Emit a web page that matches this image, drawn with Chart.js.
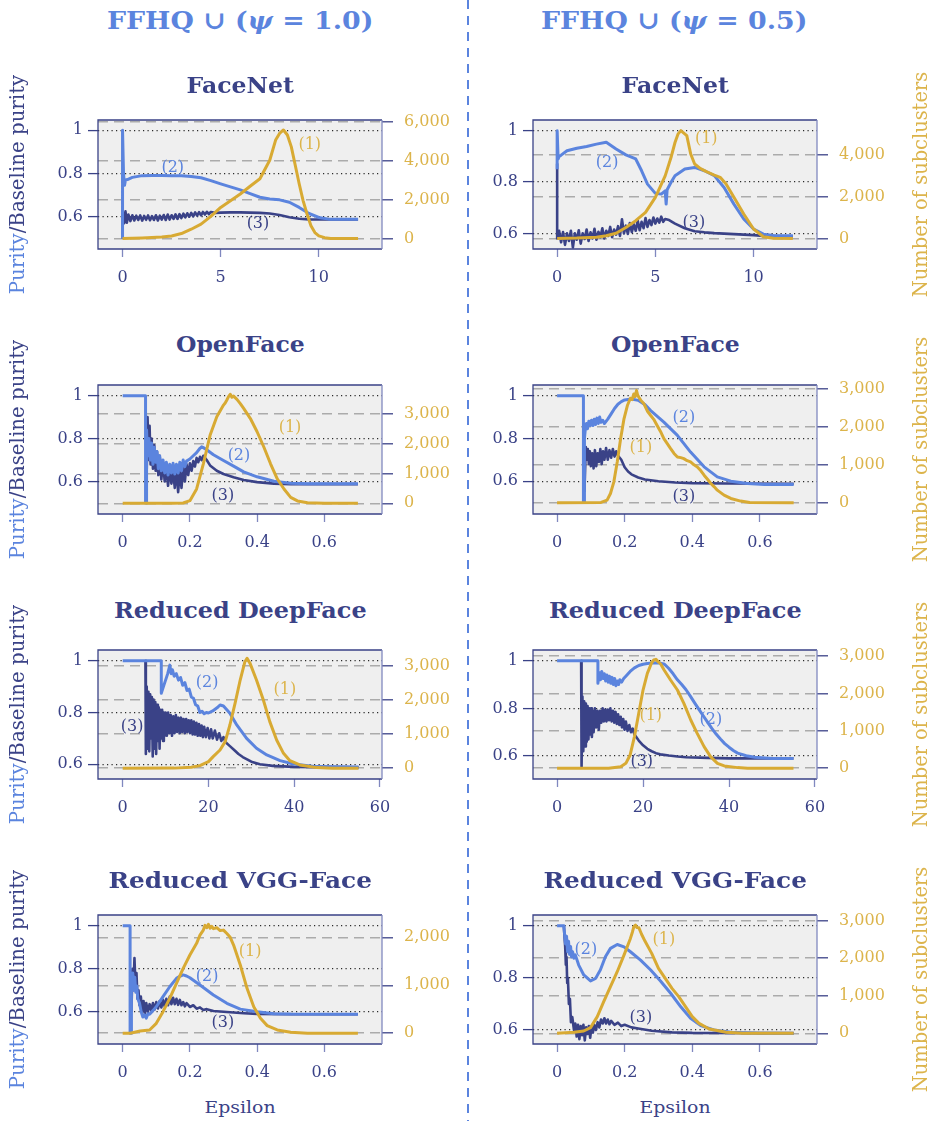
<!DOCTYPE html>
<html lang="en">
<head>
  <meta charset="UTF-8" />
  <title>Purity and subclusters vs epsilon</title>
  <script src="https://cdn.jsdelivr.net/npm/chart.js"></script>
  <style>
    body {
      margin: 0;
      width: 928px;
      height: 1121px;
      background: #ffffff;
      position: relative;
      overflow: hidden;
      font-family: 'DejaVu Serif', serif;
    }
    .txt {
      position: absolute;
      white-space: nowrap;
      line-height: 1;
      transform-origin: center center;
    }
    .colhead { font-size: 25px; font-weight: bold; color: #5b84de; }
    .title { font-size: 22px; font-weight: bold; color: #3a4287; }
    .axlab { font-size: 17px; color: #3a4287; }
    .sublab { font-size: 17px; color: #dcb44b; }
    .divider {
      position: absolute;
      left: 467px;
      top: 0;
      width: 1.5px;
      height: 1121px;
      background: repeating-linear-gradient(to bottom, #5b84de 0 9px, transparent 9px 16px);
    }
  </style>
</head>
<body>
<div class="divider"></div>

<script>
  // tick values
  const purityTicks = [0.6, 0.8, 1];
  const xTicksFaceNet = [0, 5, 10];
  const xTicksSmall = [0, 0.2, 0.4, 0.6];
  const xTicksDeepFace = [0, 20, 40, 60];
  const subTicksFnA = [0, 2000, 4000, 6000];
  const subTicksFnB = [0, 2000, 4000];
  const subTicks3k = [0, 1000, 2000, 3000];
  const subTicksVgA = [0, 1000, 2000];

  // FaceNet, psi = 1.0
  const fnAPurityEps = [0, 0, 0.05, 0.1, 0.15, 0.25, 0.5, 1, 1.5, 2, 2.5, 3, 3.5, 4, 4.5, 5, 5.5, 6, 6.5, 7, 7.5, 8, 8.5, 9, 9.5, 10, 10.5, 11, 12];
  const fnAPurity = [0.5, 1.0, 0.8, 0.745, 0.77, 0.772, 0.782, 0.79, 0.791, 0.791, 0.79, 0.789, 0.786, 0.78, 0.767, 0.752, 0.738, 0.724, 0.707, 0.69, 0.682, 0.678, 0.667, 0.643, 0.615, 0.597, 0.589, 0.588, 0.588];
  const fnABaselineEps = [0, 0, 0.08, 0.15, 0.22, 0.3, 0.4, 0.5, 0.6, 0.7, 0.8, 0.9, 1.0,
    1.1, 1.2, 1.3, 1.4, 1.5, 1.6, 1.7, 1.8, 1.9, 2.0, 2.1, 2.2, 2.3, 2.4, 2.5, 2.6, 2.7, 2.8, 2.9, 3.0,
    3.1, 3.2, 3.3, 3.4, 3.5, 3.6, 3.7, 3.8, 3.9, 4.0, 4.1, 4.2, 4.3, 4.4, 4.5,
    4.7, 5, 5.5, 6, 6.5, 7, 7.5, 8, 8.5, 9, 9.5, 10, 12];
  const fnABaseline = [0.5, 0.63, 0.57, 0.625, 0.572, 0.61, 0.58, 0.607, 0.583, 0.605, 0.585, 0.606, 0.582,
    0.604, 0.586, 0.606, 0.584, 0.603, 0.585, 0.607, 0.583, 0.605, 0.587, 0.608, 0.585, 0.61, 0.587, 0.607, 0.59, 0.611, 0.59, 0.612, 0.594,
    0.614, 0.597, 0.616, 0.6, 0.618, 0.602, 0.62, 0.605, 0.621, 0.607, 0.622, 0.61, 0.623, 0.612, 0.622,
    0.618, 0.619, 0.62, 0.62, 0.619, 0.618, 0.615, 0.608, 0.598, 0.591, 0.588, 0.587, 0.587];
  const fnASubEps = [0, 1, 2, 2.5, 3, 3.5, 4, 4.5, 5, 5.5, 6, 6.5, 7, 7.5, 7.8, 8, 8.2, 8.4, 8.6, 8.8, 9, 9.2, 9.4, 9.6, 9.8, 10, 10.3, 10.6, 11, 12];
  const fnASub = [0, 35, 87, 139, 260, 485, 745, 1150, 1610, 1950, 2300, 2700, 3085, 4040, 5080, 5420, 5600, 5340, 4730, 3780, 2830, 1960, 1270, 660, 310, 140, 50, 10, 0, 0];

  // FaceNet, psi = 0.5
  const fnBPurityEps = [0, 0, 0.05, 0.1, 0.2, 0.5, 1, 1.5, 2, 2.5, 3, 3.5, 4, 4.3, 4.6, 5, 5.3, 5.5, 5.55, 5.6, 5.8, 6, 6.5, 7, 7.5, 8, 8.5, 9, 9.5, 10, 10.5, 11, 12];
  const fnBPurity = [0.85, 1.0, 0.89, 0.9, 0.905, 0.922, 0.932, 0.939, 0.948, 0.955, 0.929, 0.906, 0.89, 0.844, 0.792, 0.756, 0.753, 0.766, 0.714, 0.77, 0.799, 0.825, 0.851, 0.857, 0.844, 0.825, 0.779, 0.714, 0.656, 0.617, 0.597, 0.592, 0.591];
  const fnBBaselineEps = [0, 0,
    0.1, 0.2, 0.3, 0.4, 0.5, 0.6, 0.7, 0.8, 0.9, 1.0,
    1.1, 1.2, 1.3, 1.4, 1.5, 1.6, 1.7, 1.8, 1.9, 2.0,
    2.1, 2.2, 2.3, 2.4, 2.5, 2.6, 2.7, 2.8, 2.9, 3.0,
    3.1, 3.2, 3.3, 3.4, 3.5, 3.6, 3.7, 3.8, 3.9, 4.0,
    4.1, 4.2, 4.3, 4.4, 4.5, 4.6, 4.7, 4.8, 4.9, 5.0,
    5.1, 5.2, 5.3, 5.4, 5.5,
    5.7, 6, 6.5, 7, 7.5, 8, 9, 10, 10.5, 12];
  const fnBBaseline = [0.87, 0.58,
    0.61, 0.565, 0.605, 0.555, 0.6, 0.57, 0.61, 0.545, 0.6, 0.575,
    0.612, 0.56, 0.6, 0.578, 0.615, 0.57, 0.604, 0.58, 0.618, 0.575,
    0.606, 0.585, 0.62, 0.58, 0.61, 0.59, 0.625, 0.585, 0.615, 0.595,
    0.628, 0.59, 0.655, 0.6, 0.63, 0.598, 0.64, 0.605, 0.635, 0.61,
    0.65, 0.612, 0.645, 0.62, 0.66, 0.625, 0.652, 0.632, 0.662, 0.638,
    0.658, 0.642, 0.665, 0.645, 0.656,
    0.652, 0.638, 0.62, 0.608, 0.604, 0.601, 0.597, 0.593, 0.59, 0.588];
  const fnBSubEps = [0, 1, 2, 2.5, 3, 3.5, 4, 4.5, 5, 5.5, 5.8, 6, 6.15, 6.3, 6.45, 6.6, 6.8, 7, 7.3, 7.6, 8, 8.3, 8.6, 9, 9.5, 10, 10.5, 11, 12];
  const fnBSub = [0, 15, 60, 130, 250, 520, 850, 1250, 1970, 3000, 3890, 4600, 5000, 5170, 5050, 4930, 4050, 3570, 3350, 3200, 3040, 2930, 2610, 1970, 1170, 450, 80, 5, 0];

  // OpenFace, psi = 1.0
  const ofAPurityEps = [0, 0.068, 0.068, 0.071, 0.071, 0.074, 0.078, 0.082, 0.086, 0.09, 0.094, 0.098, 0.102, 0.106, 0.11, 0.115, 0.12, 0.125, 0.13, 0.135, 0.14, 0.145, 0.15, 0.155, 0.16, 0.165, 0.17, 0.175, 0.18, 0.185, 0.19, 0.2, 0.21, 0.22, 0.23, 0.235, 0.24, 0.25, 0.27, 0.3, 0.33, 0.36, 0.4, 0.45, 0.5, 0.55, 0.7];
  const ofAPurity = [1, 1, 0.5, 0.5, 0.84, 0.72, 0.8, 0.7, 0.78, 0.68, 0.76, 0.69, 0.74, 0.66, 0.72, 0.65, 0.7, 0.64, 0.69, 0.63, 0.68, 0.64, 0.685, 0.635, 0.68, 0.64, 0.69, 0.65, 0.7, 0.67, 0.695, 0.705, 0.72, 0.735, 0.755, 0.762, 0.758, 0.748, 0.725, 0.698, 0.672, 0.645, 0.622, 0.601, 0.592, 0.589, 0.589];
  const ofABaselineEps = [0.071, 0.074, 0.077, 0.08, 0.083, 0.086, 0.09, 0.094, 0.098, 0.102, 0.106, 0.11, 0.115, 0.12, 0.125, 0.13, 0.135, 0.14, 0.145, 0.15, 0.155, 0.16, 0.165, 0.17, 0.175, 0.18, 0.185, 0.19, 0.195, 0.2, 0.205, 0.21, 0.215, 0.22, 0.225, 0.23, 0.235, 0.24, 0.25, 0.26, 0.28, 0.3, 0.33, 0.36, 0.4, 0.45, 0.5, 0.7];
  const ofABaseline = [0.6, 0.9, 0.7, 0.86, 0.68, 0.8, 0.66, 0.77, 0.65, 0.74, 0.63, 0.72, 0.61, 0.69, 0.6, 0.67, 0.58, 0.66, 0.59, 0.65, 0.57, 0.66, 0.55, 0.65, 0.57, 0.67, 0.6, 0.68, 0.63, 0.685, 0.65, 0.695, 0.67, 0.71, 0.69, 0.715, 0.7, 0.72, 0.7, 0.675, 0.65, 0.635, 0.62, 0.607, 0.597, 0.59, 0.588, 0.588];
  const ofASubEps = [0, 0.15, 0.18, 0.2, 0.22, 0.24, 0.26, 0.28, 0.3, 0.305, 0.31, 0.315, 0.32, 0.325, 0.33, 0.34, 0.35, 0.36, 0.38, 0.4, 0.42, 0.44, 0.46, 0.48, 0.5, 0.52, 0.55, 0.6, 0.7];
  const ofASub = [0, 0, 10, 90, 480, 1320, 2270, 2890, 3280, 3350, 3450, 3560, 3640, 3540, 3580, 3470, 3330, 3170, 2830, 2390, 1880, 1320, 820, 480, 200, 80, 20, 0, 0];

  // OpenFace, psi = 0.5
  const ofBPurityEps = [0, 0.078, 0.078, 0.081, 0.081, 0.084, 0.087, 0.09, 0.094, 0.098, 0.102, 0.106, 0.11, 0.114, 0.118, 0.122, 0.126, 0.13, 0.135, 0.14, 0.15, 0.16, 0.17, 0.18, 0.19, 0.2, 0.22, 0.24, 0.26, 0.277, 0.316, 0.356, 0.395, 0.435, 0.474, 0.514, 0.563, 0.613, 0.7];
  const ofBPurity = [1, 1, 0.5, 0.5, 0.8, 0.85, 0.87, 0.845, 0.88, 0.86, 0.885, 0.86, 0.89, 0.865, 0.895, 0.87, 0.9, 0.875, 0.885, 0.87, 0.89, 0.915, 0.94, 0.96, 0.972, 0.98, 0.984, 0.978, 0.958, 0.93, 0.876, 0.814, 0.736, 0.667, 0.62, 0.6, 0.589, 0.585, 0.585];
  const ofBBaselineEps = [0.081, 0.085, 0.088, 0.091, 0.094, 0.097, 0.1, 0.104, 0.108, 0.112, 0.116, 0.12, 0.124, 0.128, 0.132, 0.136, 0.14, 0.145, 0.15, 0.155, 0.16, 0.165, 0.17, 0.175, 0.18, 0.19, 0.2, 0.21, 0.22, 0.24, 0.26, 0.3, 0.35, 0.4, 0.5, 0.7];
  const ofBBaseline = [0.55, 0.76, 0.7, 0.75, 0.68, 0.74, 0.67, 0.73, 0.66, 0.745, 0.67, 0.73, 0.69, 0.75, 0.68, 0.74, 0.7, 0.755, 0.7, 0.745, 0.71, 0.75, 0.715, 0.74, 0.72, 0.7, 0.665, 0.645, 0.632, 0.617, 0.608, 0.6, 0.594, 0.591, 0.589, 0.588];
  const ofBSubEps = [0, 0.13, 0.148, 0.158, 0.168, 0.178, 0.188, 0.198, 0.208, 0.217, 0.222, 0.227, 0.231, 0.235, 0.238, 0.242, 0.248, 0.257, 0.267, 0.277, 0.286, 0.296, 0.306, 0.316, 0.326, 0.336, 0.346, 0.356, 0.366, 0.375, 0.385, 0.395, 0.405, 0.415, 0.425, 0.435, 0.445, 0.455, 0.465, 0.474, 0.494, 0.514, 0.543, 0.57, 0.7];
  const ofBSub = [0, 10, 70, 245, 551, 1076, 1689, 2214, 2564, 2756, 2720, 2870, 2800, 2958, 2850, 2783, 2700, 2608, 2420, 2301, 2200, 2039, 1880, 1689, 1560, 1426, 1300, 1208, 1190, 1164, 1110, 1076, 1000, 945, 850, 726, 620, 508, 420, 333, 201, 114, 44, 5, 0];

  // Reduced DeepFace, psi = 1.0
  const dfAPurityEps = [0, 9, 9, 9.5, 10, 10.5, 11, 11.3, 11.6, 12, 12.5, 13, 13.5, 14, 14.5, 15, 15.5, 16, 16.5, 17, 17.5, 18, 18.5, 19, 19.5, 20, 21, 22, 22.7, 23.5, 25, 26.6, 28.9, 31.2, 33.6, 36.7, 39.8, 45.2, 55];
  const dfAPurity = [1, 1, 0.874, 0.9, 0.925, 0.95, 0.983, 0.95, 0.965, 0.94, 0.95, 0.925, 0.935, 0.905, 0.915, 0.885, 0.89, 0.86, 0.855, 0.83, 0.825, 0.8, 0.805, 0.795, 0.8, 0.798, 0.806, 0.818, 0.829, 0.825, 0.797, 0.752, 0.7, 0.662, 0.636, 0.614, 0.601, 0.591, 0.59];
  const dfABaselineEps = [5.3, 5.4, 5.6, 5.8, 6.0, 6.2, 6.4, 6.6, 6.8, 7.0, 7.2, 7.4, 7.6, 7.8, 8.0, 8.2, 8.4, 8.6, 8.8, 9.0, 9.2, 9.4, 9.6, 9.8, 10.0,
    10.3, 10.6, 10.9, 11.2, 11.5, 11.8, 12.1, 12.4, 12.7, 13, 13.3, 13.6, 13.9, 14.2, 14.5, 14.8, 15.1, 15.4, 15.7, 16,
    16.3, 16.6, 16.9, 17.2, 17.5, 17.8, 18.1, 18.4, 18.7, 19, 19.4, 19.8, 20.2, 20.6, 21, 21.5, 22, 22.5, 23, 23.5,
    24, 25, 26, 27, 28, 30, 32, 35, 40, 55];
  const dfABaseline = [1, 0.64, 0.9, 0.66, 0.88, 0.65, 0.87, 0.7, 0.86, 0.63, 0.85, 0.66, 0.84, 0.64, 0.83, 0.69, 0.82, 0.66, 0.81, 0.7, 0.81, 0.69, 0.8, 0.71, 0.8,
    0.71, 0.8, 0.72, 0.79, 0.71, 0.785, 0.72, 0.79, 0.725, 0.78, 0.72, 0.78, 0.725, 0.775, 0.72, 0.775, 0.725, 0.77, 0.72, 0.77,
    0.715, 0.765, 0.715, 0.76, 0.71, 0.755, 0.71, 0.75, 0.705, 0.745, 0.705, 0.74, 0.7, 0.735, 0.7, 0.73, 0.695, 0.72, 0.69, 0.705,
    0.685, 0.67, 0.655, 0.64, 0.628, 0.61, 0.6, 0.594, 0.59, 0.588];
  const dfASubEps = [0, 12, 16, 18, 20, 21.1, 22.7, 23.9, 25, 26.2, 27.4, 28.5, 29, 29.7, 31.2, 32.8, 34.3, 35.9, 37.5, 39, 41.3, 45.2, 49, 55];
  const dfASub = [0, 5, 30, 78, 195, 341, 536, 779, 1266, 1899, 2581, 3117, 3214, 3068, 2581, 1997, 1364, 828, 438, 224, 97, 20, 0, 0];

  // Reduced DeepFace, psi = 0.5
  const dfBPurityEps = [0, 9.5, 9.5, 9.8, 10.1, 10.4, 10.7, 11, 11.3, 11.6, 11.9, 12.2, 12.5, 12.8, 13.1, 13.4, 13.7, 14, 14.3, 14.6, 15, 15.5, 16, 17, 18, 19, 20, 21, 22, 23, 24, 25, 26, 27, 28, 29, 30, 31, 32, 33, 34, 35, 36, 37, 38, 39, 40, 41, 42, 44, 46, 50, 55];
  const dfBPurity = [1, 1, 0.905, 0.95, 0.92, 0.955, 0.925, 0.945, 0.915, 0.94, 0.91, 0.935, 0.905, 0.93, 0.9, 0.925, 0.895, 0.915, 0.9, 0.92, 0.91, 0.925, 0.935, 0.955, 0.97, 0.98, 0.985, 0.988, 0.99, 0.99, 0.99, 0.985, 0.967, 0.945, 0.92, 0.9, 0.878, 0.851, 0.823, 0.796, 0.769, 0.742, 0.716, 0.692, 0.671, 0.652, 0.637, 0.623, 0.612, 0.601, 0.595, 0.59, 0.59];
  const dfBBaselineEps = [5.6, 5.7, 5.9, 6.1, 6.3, 6.5, 6.7, 6.9, 7.1, 7.3, 7.5, 7.7, 7.9, 8.1, 8.3, 8.5, 8.8, 9.1, 9.4, 9.7,
    10, 10.3, 10.6, 10.9, 11.2, 11.5, 11.8, 12.1, 12.4, 12.7, 13, 13.3, 13.6, 13.9, 14.2, 14.5, 14.8, 15.1, 15.4, 15.7,
    16, 16.4, 16.8, 17.2, 17.6, 18, 19, 20, 21, 22, 23, 24, 26, 28, 30, 35, 40, 55];
  const dfBBaseline = [1, 0.555, 0.85, 0.62, 0.83, 0.64, 0.82, 0.66, 0.81, 0.67, 0.8, 0.69, 0.8, 0.68, 0.79, 0.7, 0.8, 0.72, 0.79, 0.71,
    0.79, 0.74, 0.8, 0.745, 0.795, 0.745, 0.795, 0.75, 0.8, 0.745, 0.79, 0.74, 0.785, 0.735, 0.775, 0.73, 0.765, 0.72, 0.755, 0.71,
    0.745, 0.705, 0.73, 0.7, 0.715, 0.69, 0.665, 0.645, 0.63, 0.62, 0.612, 0.607, 0.602, 0.598, 0.595, 0.592, 0.59, 0.59];
  const dfBSubEps = [0, 12, 14.8, 16, 17, 18, 19, 20, 21, 22, 22.5, 23, 23.5, 24.1, 24.9, 26.4, 28, 29.5, 31.1, 32.6, 34.2, 35.7, 37.3, 38.9, 42, 44.3, 55];
  const dfBSub = [0, 0, 44, 133, 356, 846, 1468, 2091, 2536, 2821, 2892, 2910, 2850, 2786, 2626, 2358, 2091, 1735, 1290, 934, 578, 311, 133, 62, 18, 0, 0];

  // Reduced VGG-Face, psi = 1.0
  const vgAPurityEps = [0, 0.022, 0.022, 0.026, 0.026, 0.03, 0.033, 0.036, 0.039, 0.042, 0.045, 0.05, 0.055, 0.06, 0.065, 0.07, 0.075, 0.08, 0.09, 0.1, 0.12, 0.14, 0.16, 0.17, 0.18, 0.19, 0.2, 0.23, 0.27, 0.31, 0.35, 0.4, 0.45, 0.5, 0.7];
  const vgAPurity = [1, 1, 0.5, 0.5, 0.72, 0.78, 0.7, 0.76, 0.69, 0.72, 0.66, 0.64, 0.6, 0.575, 0.585, 0.57, 0.59, 0.588, 0.605, 0.623, 0.67, 0.716, 0.755, 0.765, 0.771, 0.766, 0.758, 0.724, 0.678, 0.639, 0.612, 0.6, 0.591, 0.589, 0.588];
  const vgABaselineEps = [0.026, 0.029, 0.032, 0.035, 0.038, 0.041, 0.044, 0.047, 0.05, 0.054, 0.058, 0.062, 0.066, 0.07, 0.075, 0.08, 0.085, 0.09, 0.095, 0.1, 0.105, 0.11, 0.115, 0.12, 0.125, 0.13, 0.135, 0.14, 0.145, 0.15, 0.155, 0.16, 0.165, 0.17, 0.175, 0.18, 0.185, 0.19, 0.2, 0.21, 0.22, 0.23, 0.24, 0.25, 0.27, 0.3, 0.33, 0.36, 0.4, 0.5, 0.7];
  const vgABaseline = [0.6, 0.8, 0.7, 0.85, 0.72, 0.78, 0.66, 0.7, 0.63, 0.67, 0.6, 0.65, 0.59, 0.64, 0.6, 0.635, 0.605, 0.64, 0.61, 0.645, 0.615, 0.65, 0.62, 0.655, 0.625, 0.66, 0.63, 0.67, 0.635, 0.665, 0.635, 0.66, 0.632, 0.655, 0.63, 0.645, 0.625, 0.64, 0.622, 0.63, 0.614, 0.62, 0.608, 0.612, 0.603, 0.6, 0.596, 0.593, 0.59, 0.588, 0.588];
  const vgASubEps = [0, 0.022, 0.052, 0.08, 0.1, 0.12, 0.14, 0.16, 0.18, 0.2, 0.22, 0.23, 0.24, 0.245, 0.25, 0.255, 0.26, 0.265, 0.27, 0.28, 0.29, 0.3, 0.31, 0.32, 0.33, 0.35, 0.37, 0.39, 0.41, 0.43, 0.46, 0.5, 0.55, 0.7];
  const vgASub = [0, 0, 49, 69, 208, 451, 729, 1041, 1353, 1631, 1874, 2047, 2151, 2250, 2200, 2270, 2190, 2230, 2180, 2200, 2140, 2150, 2080, 2000, 1839, 1423, 937, 555, 312, 160, 69, 21, 0, 0];

  // Reduced VGG-Face, psi = 0.5
  const vgBPurityEps = [0, 0.02, 0.022, 0.025, 0.028, 0.031, 0.034, 0.037, 0.04, 0.043, 0.046, 0.05, 0.054, 0.064, 0.079, 0.099, 0.114, 0.128, 0.143, 0.158, 0.178, 0.198, 0.217, 0.247, 0.277, 0.306, 0.336, 0.366, 0.395, 0.425, 0.464, 0.514, 0.6, 0.7];
  const vgBPurity = [1, 1, 0.97, 0.93, 0.96, 0.9, 0.94, 0.89, 0.92, 0.88, 0.9, 0.875, 0.888, 0.849, 0.811, 0.788, 0.798, 0.83, 0.881, 0.913, 0.928, 0.919, 0.9, 0.868, 0.83, 0.788, 0.741, 0.689, 0.645, 0.617, 0.6, 0.591, 0.588, 0.587];
  const vgBBaselineEps = [0.02, 0.024, 0.026, 0.028, 0.03, 0.032, 0.035, 0.038, 0.041, 0.045, 0.05, 0.054, 0.058, 0.062, 0.066, 0.07, 0.074, 0.078, 0.082, 0.086, 0.09, 0.094, 0.098, 0.102, 0.106, 0.11, 0.115, 0.12, 0.125, 0.13, 0.135, 0.14, 0.145, 0.15, 0.155, 0.16, 0.17, 0.18, 0.19, 0.2, 0.22, 0.24, 0.28, 0.34, 0.4, 0.7];
  const vgBBaseline = [1, 0.92, 0.85, 0.88, 0.78, 0.8, 0.7, 0.72, 0.63, 0.65, 0.6, 0.625, 0.575, 0.62, 0.565, 0.615, 0.58, 0.62, 0.56, 0.61, 0.585, 0.615, 0.57, 0.615, 0.59, 0.62, 0.6, 0.63, 0.61, 0.64, 0.625, 0.645, 0.625, 0.64, 0.622, 0.635, 0.62, 0.628, 0.615, 0.62, 0.61, 0.606, 0.597, 0.591, 0.589, 0.588];
  const vgBSubEps = [0, 0.05, 0.079, 0.099, 0.119, 0.138, 0.158, 0.178, 0.198, 0.217, 0.223, 0.227, 0.232, 0.236, 0.242, 0.25, 0.26, 0.28, 0.3, 0.32, 0.34, 0.36, 0.38, 0.4, 0.42, 0.45, 0.5, 0.55, 0.7];
  const vgBSub = [0, 27, 62, 151, 444, 843, 1242, 1641, 2084, 2528, 2700, 2838, 2883, 2820, 2812, 2640, 2457, 2129, 1730, 1464, 1197, 976, 710, 444, 266, 115, 27, 0, 0];

  const NAVY = '#3a4287';
  const LIGHT_NAVY = '#8088bf';
  const BLUE = '#5b84de';
  const GOLD = '#d8aa33';
  const GOLD_TEXT = '#dcb44b';

  // layout of the two columns and four rows
  const COLS = [
    { left: 0, yW: 98, y2W: 82, cx: 240 },
    { left: 464, yW: 69, y2W: 111, cx: 675 }
  ];
  const BOX_TOP = [120, 385, 650, 915];
  const TITLE_Y = [85, 344, 610, 880];
  const BOX_H = 129, PAD_TOP = 24, X_H = 42, CANVAS_W = 464;

  const panels = [
    { col: 0, row: 0, title: 'FaceNet', pe: fnAPurityEps, pv: fnAPurity, be: fnABaselineEps, bv: fnABaseline, se: fnASubEps, sv: fnASub,
      xTicks: xTicksFaceNet, subTicks: subTicksFnA, x: [-1.25, 13.22], y: [0.451, 1.047], y2: [-535, 6114],
      labels: [[9.54, 0.93, '(1)', GOLD_TEXT], [2.56, 0.828, '(2)', BLUE], [6.9, 0.567, '(3)', NAVY]] },
    { col: 1, row: 0, title: 'FaceNet', pe: fnBPurityEps, pv: fnBPurity, be: fnBBaselineEps, bv: fnBBaseline, se: fnBSubEps, sv: fnBSub,
      xTicks: xTicksFaceNet, subTicks: subTicksFnB, x: [-1.23, 13.23], y: [0.539, 1.042], y2: [-508, 5679],
      labels: [[7.59, 0.969, '(1)', GOLD_TEXT], [2.54, 0.875, '(2)', BLUE], [6.96, 0.642, '(3)', NAVY]] },
    { col: 0, row: 1, title: 'OpenFace', pe: ofAPurityEps, pv: ofAPurity, be: ofABaselineEps, bv: ofABaseline, se: ofASubEps, sv: ofASub,
      xTicks: xTicksSmall, subTicks: subTicks3k, x: [-0.0735, 0.7717], y: [0.4485, 1.05], y2: [-356, 3950],
      labels: [[0.498, 0.849, '(1)', GOLD_TEXT], [0.346, 0.722, '(2)', BLUE], [0.298, 0.534, '(3)', NAVY]] },
    { col: 1, row: 1, title: 'OpenFace', pe: ofBPurityEps, pv: ofBPurity, be: ofBBaselineEps, bv: ofBBaseline, se: ofBSubEps, sv: ofBSub,
      xTicks: xTicksSmall, subTicks: subTicks3k, x: [-0.0712, 0.769], y: [0.4465, 1.0498], y2: [-296, 3105],
      labels: [[0.248, 0.758, '(1)', GOLD_TEXT], [0.375, 0.898, '(2)', BLUE], [0.375, 0.527, '(3)', NAVY]] },
    { col: 0, row: 2, title: 'Reduced DeepFace', pe: dfAPurityEps, pv: dfAPurity, be: dfABaselineEps, bv: dfABaseline, se: dfASubEps, sv: dfASub,
      xTicks: xTicksDeepFace, subTicks: subTicks3k, x: [-5.76, 60.47], y: [0.5432, 1.0413], y2: [-313, 3459],
      labels: [[37.8, 0.887, '(1)', GOLD_TEXT], [19.7, 0.914, '(2)', BLUE], [2.2, 0.744, '(3)', NAVY]] },
    { col: 1, row: 2, title: 'Reduced DeepFace', pe: dfBPurityEps, pv: dfBPurity, be: dfBBaselineEps, bv: dfBBaseline, se: dfBSubEps, sv: dfBSub,
      xTicks: xTicksDeepFace, subTicks: subTicks3k, x: [-5.6, 60.47], y: [0.5035, 1.0449], y2: [-286, 3160],
      labels: [[21.8, 0.768, '(1)', GOLD_TEXT], [35.8, 0.751, '(2)', BLUE], [19.7, 0.575, '(3)', NAVY]] },
    { col: 0, row: 3, title: 'Reduced VGG-Face', pe: vgAPurityEps, pv: vgAPurity, be: vgABaselineEps, bv: vgABaseline, se: vgASubEps, sv: vgASub,
      xTicks: xTicksSmall, subTicks: subTicksVgA, x: [-0.0735, 0.7717], y: [0.4498, 1.0498], y2: [-223, 2465],
      labels: [[0.379, 0.878, '(1)', GOLD_TEXT], [0.251, 0.761, '(2)', BLUE], [0.298, 0.547, '(3)', NAVY]] },
    { col: 1, row: 3, title: 'Reduced VGG-Face', pe: vgBPurityEps, pv: vgBPurity, be: vgBBaselineEps, bv: vgBBaseline, se: vgBSubEps, sv: vgBSub,
      xTicks: xTicksSmall, subTicks: subTicks3k, x: [-0.0712, 0.769], y: [0.5463, 1.041], y2: [-285, 3152],
      labels: [[0.316, 0.945, '(1)', GOLD_TEXT], [0.085, 0.907, '(2)', BLUE], [0.248, 0.646, '(3)', NAVY]] }
  ];

  function pts(xs, ys) {
    return xs.map((x, i) => ({ x: x, y: ys[i] }));
  }

  function setTicks(vals) {
    return scale => { scale.ticks = vals.map(v => ({ value: v })); };
  }

  const tickFont = { family: 'DejaVu Serif', size: 16 };

  // grey panel, frame and (1)/(2)/(3) tags
  const panelPlugin = {
    id: 'panelDeco',
    beforeDraw(chart) {
      const a = chart.chartArea, ctx = chart.ctx;
      ctx.save();
      ctx.fillStyle = '#efefef';
      ctx.fillRect(a.left, a.top, a.right - a.left, a.bottom - a.top);
      ctx.restore();
    },
    afterDatasetsDraw(chart) {
      const ctx = chart.ctx, p = chart.config.options.plugins.panelDeco.panel;
      ctx.save();
      ctx.font = '16px "DejaVu Serif"';
      ctx.textAlign = 'center';
      ctx.textBaseline = 'middle';
      p.labels.forEach(([x, y, t, c]) => {
        ctx.fillStyle = c;
        ctx.fillText(t, chart.scales.x.getPixelForValue(x), chart.scales.y.getPixelForValue(y));
      });
      ctx.restore();
    },
    afterDraw(chart) {
      const a = chart.chartArea, ctx = chart.ctx;
      ctx.save();
      ctx.lineWidth = 1.3;
      ctx.strokeStyle = NAVY;
      ctx.beginPath();
      ctx.moveTo(a.right, a.top);
      ctx.lineTo(a.left, a.top);
      ctx.lineTo(a.left, a.bottom);
      ctx.lineTo(a.right, a.bottom);
      ctx.stroke();
      ctx.strokeStyle = LIGHT_NAVY;
      ctx.beginPath();
      ctx.moveTo(a.right, a.top);
      ctx.lineTo(a.right, a.bottom);
      ctx.stroke();
      ctx.restore();
    }
  };

  function makeChart(p) {
    const c = COLS[p.col];
    const cv = document.createElement('canvas');
    cv.width = CANVAS_W;
    cv.height = PAD_TOP + BOX_H + X_H;
    cv.style.cssText = 'position:absolute;left:' + c.left + 'px;top:' + (BOX_TOP[p.row] - PAD_TOP) + 'px;';
    document.body.appendChild(cv);

    new Chart(cv, {
      type: 'line',
      data: {
        datasets: [
          { data: pts(p.se, p.sv), yAxisID: 'y2', borderColor: GOLD, borderWidth: 3 },
          { data: pts(p.pe, p.pv), yAxisID: 'y', borderColor: BLUE, borderWidth: 3 },
          { data: pts(p.be, p.bv), yAxisID: 'y', borderColor: NAVY, borderWidth: 2.6 }
        ]
      },
      options: {
        responsive: false,
        animation: false,
        devicePixelRatio: 1,
        events: [],
        layout: { padding: { top: PAD_TOP, left: 0, right: 0, bottom: 0 } },
        elements: {
          point: { radius: 0 },
          line: { tension: 0, borderJoinStyle: 'round', fill: false }
        },
        plugins: {
          legend: { display: false },
          tooltip: { enabled: false },
          panelDeco: { panel: p }
        },
        scales: {
          x: {
            type: 'linear', min: p.x[0], max: p.x[1],
            afterBuildTicks: setTicks(p.xTicks),
            afterFit: s => { s.height = X_H; },
            ticks: { font: tickFont, color: NAVY, padding: 11, autoSkip: false, maxRotation: 0, callback: v => String(v) },
            grid: { drawOnChartArea: false, drawTicks: true, tickLength: 8, tickColor: LIGHT_NAVY, tickWidth: 1.3 },
            border: { display: false }
          },
          y: {
            type: 'linear', position: 'left', min: p.y[0], max: p.y[1],
            afterBuildTicks: setTicks(purityTicks),
            afterFit: s => { s.width = c.yW; },
            ticks: { font: tickFont, color: NAVY, padding: 5, callback: v => (v === 1 ? '1' : v.toFixed(1)) },
            grid: { color: '#2a2a2a', lineWidth: 1.2, tickLength: 10, tickColor: NAVY, tickWidth: 1.3 },
            border: { display: false, dash: [1.2, 3.3] }
          },
          y2: {
            type: 'linear', position: 'right', min: p.y2[0], max: p.y2[1],
            afterBuildTicks: setTicks(p.subTicks),
            afterFit: s => { s.width = c.y2W; },
            ticks: { font: tickFont, color: GOLD_TEXT, padding: 11, callback: v => v.toLocaleString('en-US') },
            grid: { color: '#ababab', lineWidth: 1.6, tickLength: 11, tickColor: NAVY, tickWidth: 1.3 },
            border: { display: false, dash: [10, 6] }
          }
        }
      },
      plugins: [panelPlugin]
    });
  }

  // text placed in the page, stretched to the reference widths
  function addText(html, cls, cx, cy, len, rotate, stretch) {
    const el = document.createElement('div');
    el.className = 'txt ' + cls;
    el.innerHTML = html;
    document.body.appendChild(el);
    const w = el.offsetWidth, h = el.offsetHeight;
    el.style.left = (cx - w / 2) + 'px';
    el.style.top = (cy - h / 2) + 'px';
    el.style.transform = (rotate ? 'rotate(-90deg) ' : '') + 'scale(' + (len / w) + ',' + (stretch || 1) + ')';
  }

  const titleWidths = { 'FaceNet': 107, 'OpenFace': 129, 'Reduced DeepFace': 253, 'Reduced VGG-Face': 263 };

  addText('FFHQ ∪ (<i>ψ</i> = 1.0)', 'colhead', 240, 20, 266);
  addText('FFHQ ∪ (<i>ψ</i> = 0.5)', 'colhead', 674, 20, 266);

  panels.forEach(p => {
    makeChart(p);
    addText(p.title, 'title', COLS[p.col].cx, TITLE_Y[p.row], titleWidths[p.title]);
  });

  BOX_TOP.forEach(top => {
    const mid = top + BOX_H / 2;
    addText('<span style="color:' + BLUE + '">Purity</span>/Baseline purity', 'axlab', 17, mid, 220, true, 1.15);
    addText('Number of subclusters', 'sublab', 920, mid, 225, true, 1.15);
  });

  addText('Epsilon', 'axlab', 240, 1107, 71);
  addText('Epsilon', 'axlab', 675, 1107, 71);
</script>
</body>
</html>
